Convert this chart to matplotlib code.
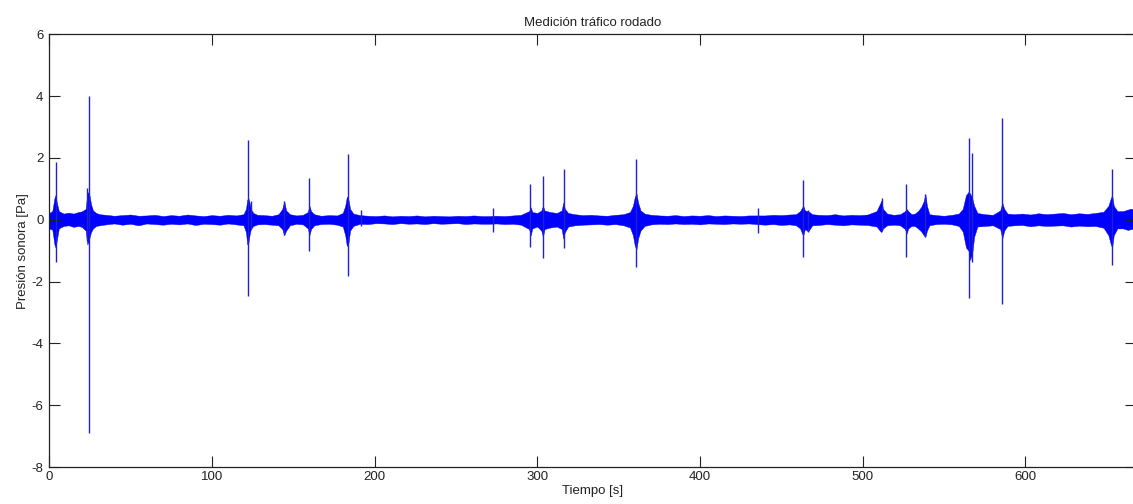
import matplotlib.pyplot as plt

plt.rcParams['font.family'] = ['Liberation Sans', 'DejaVu Sans']
plt.rcParams['axes.unicode_minus'] = False

# envelope of the recorded pressure signal (upper / lower bound), seconds and Pa
t_env = [0, 2, 3.3, 4, 4.8, 6, 9, 12, 15, 18, 20, 22.5, 23.5, 24.3, 25, 25.8, 27, 29, 31,
         35, 40, 45, 50, 55, 60, 65, 70, 75, 80, 85, 90, 95, 100, 105, 110, 115,
         119.5, 121, 121.8, 122.5, 123.2, 124, 125.5, 128,
         132, 137, 141, 143.3, 144.5, 145.7, 148, 152, 156,
         159, 160, 161, 163, 167, 172, 177,
         180.5, 182, 183, 184, 185, 187,
         191, 196, 201, 206, 211, 216, 221, 226, 231, 236, 241, 246, 251, 256, 261, 266,
         270, 275, 280, 285, 290, 295, 296, 297, 300, 302.5, 303.5, 304.5, 308, 312,
         315, 316, 317, 319, 323, 328, 333, 338, 343, 348, 353,
         357, 358.8, 360, 361, 362, 363.5, 366,
         370, 375, 380, 385, 390, 395, 400, 405, 410, 415, 420, 425, 430,
         440, 445, 450, 455, 459, 461.5, 462.8, 463.5, 464.5, 466.5, 469,
         473, 478, 483, 488, 493, 498, 503, 508.5, 510.5, 511.5, 512.5, 515, 519, 523,
         526, 527, 528, 530, 532, 534, 536, 537.5, 538.5, 539.5, 541,
         545, 550, 555, 559, 561.5, 563.5, 565, 566, 567.3, 568.5, 570.5, 575, 580,
         584.5, 585.8, 587, 589,
         593, 598, 603, 608, 613, 618, 623, 628, 633, 638, 643,
         648, 651, 652.5, 653.3, 654.3, 656.5, 660, 663, 665, 668]
env_hi = [0.22, 0.28, 0.7, 0.8, 0.55, 0.28, 0.2, 0.23, 0.2, 0.25, 0.27, 0.35, 0.85, 0.9, 0.75, 0.5, 0.3, 0.22, 0.18,
          0.16, 0.13, 0.15, 0.17, 0.13, 0.14, 0.16, 0.12, 0.15, 0.13, 0.17, 0.14, 0.12, 0.15, 0.13, 0.16, 0.14,
          0.18, 0.35, 0.65, 0.7, 0.55, 0.35, 0.22, 0.16,
          0.15, 0.13, 0.18, 0.35, 0.6, 0.3, 0.18, 0.14, 0.16,
          0.25, 0.45, 0.28, 0.18, 0.13, 0.15, 0.14,
          0.22, 0.45, 0.75, 0.65, 0.35, 0.2,
          0.15, 0.13, 0.12, 0.14, 0.11, 0.13, 0.12, 0.14, 0.11, 0.13, 0.12, 0.11, 0.13, 0.12, 0.14, 0.12,
          0.12, 0.13, 0.12, 0.14, 0.16, 0.28, 0.4, 0.25, 0.22, 0.3, 0.45, 0.3, 0.25, 0.22,
          0.3, 0.55, 0.35, 0.22, 0.18, 0.15, 0.16, 0.14, 0.13, 0.16, 0.18,
          0.25, 0.45, 0.75, 0.85, 0.55, 0.3, 0.2,
          0.16, 0.14, 0.13, 0.15, 0.12, 0.14, 0.13, 0.15, 0.12, 0.14, 0.13, 0.12, 0.14,
          0.14, 0.16, 0.15, 0.17, 0.18, 0.28, 0.4, 0.45, 0.3, 0.28, 0.18,
          0.16, 0.15, 0.18, 0.14, 0.16, 0.15, 0.17, 0.28, 0.5, 0.62, 0.35, 0.2, 0.16, 0.18,
          0.28, 0.35, 0.28, 0.18, 0.2, 0.28, 0.42, 0.6, 0.83, 0.45, 0.18,
          0.15, 0.13, 0.16, 0.2, 0.35, 0.8, 0.9, 0.85, 0.7, 0.45, 0.22, 0.18, 0.16,
          0.3, 0.55, 0.35, 0.2,
          0.18, 0.2, 0.17, 0.21, 0.18, 0.2, 0.22, 0.18, 0.21, 0.19, 0.22,
          0.26, 0.45, 0.7, 0.8, 0.45, 0.28, 0.28, 0.33, 0.36, 0.3]
env_lo = [-0.28, -0.32, -0.8, -0.9, -0.65, -0.28, -0.2, -0.18, -0.23, -0.2, -0.23, -0.35, -0.8, -0.7, -0.55, -0.4, -0.28, -0.2, -0.18,
          -0.15, -0.12, -0.16, -0.13, -0.18, -0.12, -0.14, -0.16, -0.13, -0.15, -0.12, -0.17, -0.13, -0.14, -0.16, -0.12, -0.15,
          -0.18, -0.4, -0.8, -0.75, -0.5, -0.3, -0.2, -0.15,
          -0.14, -0.16, -0.18, -0.3, -0.5, -0.35, -0.18, -0.13, -0.15,
          -0.28, -0.5, -0.3, -0.18, -0.14, -0.13, -0.16,
          -0.22, -0.5, -0.85, -0.75, -0.35, -0.2,
          -0.13, -0.14, -0.11, -0.12, -0.14, -0.11, -0.13, -0.12, -0.14, -0.11, -0.13, -0.12, -0.11, -0.14, -0.12, -0.13,
          -0.13, -0.12, -0.14, -0.13, -0.16, -0.3, -0.5, -0.28, -0.22, -0.35, -0.55, -0.3, -0.25, -0.22,
          -0.3, -0.6, -0.4, -0.22, -0.18, -0.16, -0.15, -0.14, -0.16, -0.14, -0.18,
          -0.25, -0.5, -0.85, -0.95, -0.6, -0.35, -0.2,
          -0.15, -0.13, -0.14, -0.12, -0.14, -0.13, -0.15, -0.12, -0.13, -0.14, -0.12, -0.13, -0.12,
          -0.16, -0.14, -0.17, -0.15, -0.18, -0.28, -0.45, -0.5, -0.3, -0.38, -0.18,
          -0.17, -0.14, -0.16, -0.18, -0.15, -0.16, -0.17, -0.22, -0.35, -0.4, -0.28, -0.18, -0.16, -0.18,
          -0.3, -0.45, -0.28, -0.2, -0.2, -0.28, -0.38, -0.5, -0.55, -0.35, -0.18,
          -0.14, -0.13, -0.15, -0.2, -0.38, -0.9, -1.0, -1.3, -1.1, -0.55, -0.22, -0.2, -0.18,
          -0.3, -0.6, -0.35, -0.2,
          -0.18, -0.17, -0.21, -0.18, -0.2, -0.19, -0.18, -0.22, -0.19, -0.21, -0.2,
          -0.26, -0.5, -0.8, -0.9, -0.5, -0.28, -0.28, -0.33, -0.3, -0.28]

# isolated pressure peaks (vehicle pass-bys)
peak_t = [4.1, 23.4, 24.6, 122.2, 123.8, 144.5, 160.0, 183.5, 191.7, 272.6, 295.8, 303.4,
          316.3, 360.8, 435.6, 463.3, 466.6, 511.7, 526.9, 538.3, 565.2, 567.0, 585.9, 653.0]
peak_hi = [1.88, 1.03, 4.0, 2.58, 0.6, 0.6, 1.36, 2.13, 0.33, 0.38, 1.15, 1.43,
           1.63, 1.96, 0.37, 1.29, 0.3, 0.7, 1.17, 0.83, 2.64, 2.15, 3.28, 1.63]
peak_lo = [-1.36, -0.7, -6.89, -2.47, -0.3, -0.5, -1.0, -1.82, -0.2, -0.4, -0.87, -1.23,
           -0.92, -1.54, -0.43, -1.19, -0.4, -0.33, -1.2, -0.55, -2.54, -1.36, -2.74, -1.46]

fig = plt.figure(figsize=(11.33, 5.04), dpi=100)
ax = fig.add_axes([0.0433, 0.0734, 0.9594, 0.8585])

ax.fill_between(t_env, env_lo, env_hi, color='#0000ff', lw=0.3)
ax.vlines(peak_t, peak_lo, peak_hi, color='#2020d0', lw=1.0)

ax.set_xlim(0, 668)
ax.set_ylim(-8, 6)
ax.set_xticks(range(0, 700, 100))
ax.set_yticks(range(-8, 8, 2))
ax.tick_params(direction='in', length=7.8, width=0.8, top=True, right=True,
               labelsize=9.5, colors='#222222')
ax.tick_params(axis='x', pad=3)
ax.tick_params(axis='y', pad=4)
for s in ax.spines.values():
    s.set_color('#222222')
    s.set_linewidth(0.9)

ax.set_title('Medición tráfico rodado', fontsize=9.5, color='#222222', pad=6)
ax.set_xlabel('Tiempo [s]', fontsize=9.5, color='#222222', labelpad=1)
ax.set_ylabel('Presión sonora [Pa]', fontsize=9.5, color='#222222', labelpad=2)

fig.savefig('out.png', dpi=100)
